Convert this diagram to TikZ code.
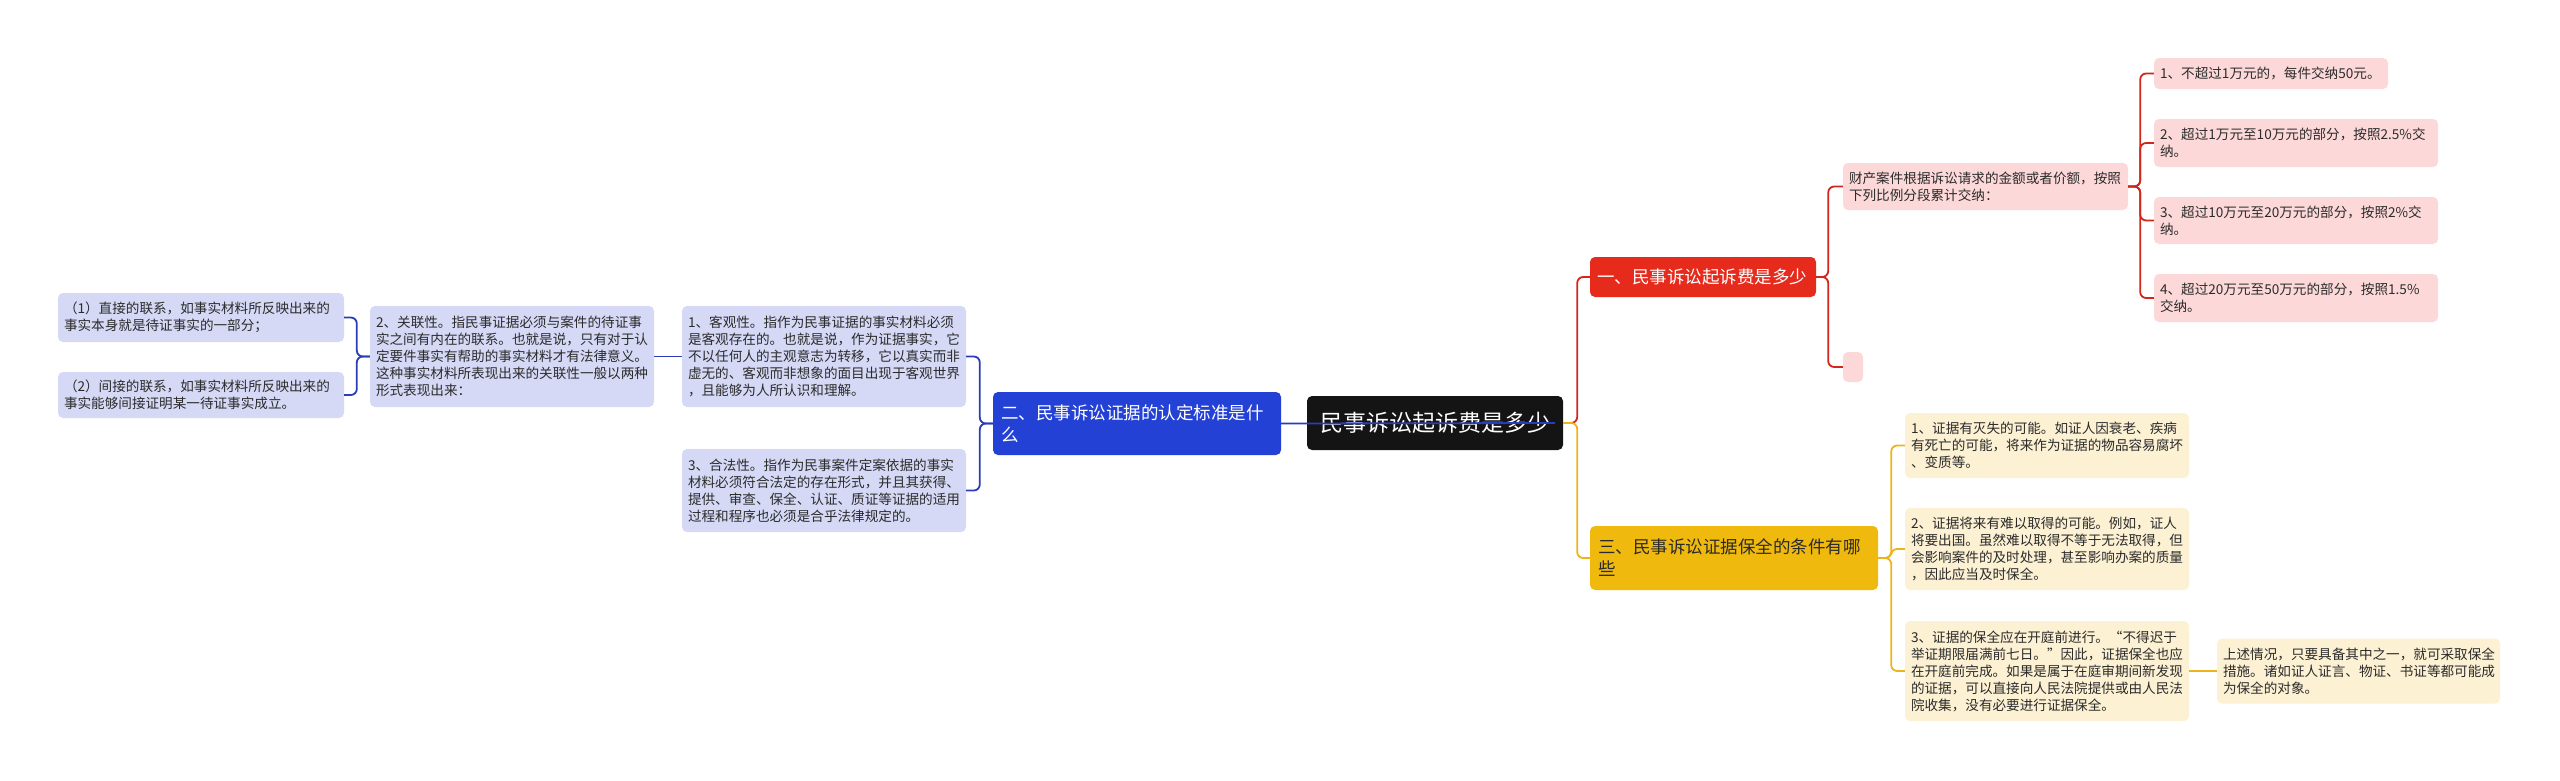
\documentclass[tikz,border=0pt]{standalone}
\usepackage{fontspec}
\newfontfamily\cjk{Noto Sans CJK SC}
\definecolor{rootc}{HTML}{141414}
\definecolor{bmain}{HTML}{2441D6}
\definecolor{rmain}{HTML}{E62A1C}
\definecolor{ymain}{HTML}{F0B90D}
\definecolor{lavc}{HTML}{D5D9F6}
\definecolor{pinkc}{HTML}{FCD8D8}
\definecolor{ylight}{HTML}{FDF1D4}
\definecolor{blc}{HTML}{2A3CB8}
\definecolor{rlc}{HTML}{D2261C}
\definecolor{ylc}{HTML}{ECB41C}
\definecolor{txtc}{HTML}{2B2B2B}
\tikzset{
  anybox/.style={rounded corners=5pt, inner sep=0pt, align=left},
  smalltxt/.style={font=\cjk\fontsize{13.6pt}{17pt}\selectfont, text=txtc},
  maintxt/.style={font=\cjk\fontsize{17.5pt}{22pt}\selectfont},
  rootbox/.style={anybox, fill=rootc, text=white, align=center, font=\cjk\fontsize{23pt}{28pt}\selectfont},
  bmainbox/.style={anybox, maintxt, fill=bmain, text=white},
  rmainbox/.style={anybox, maintxt, fill=rmain, text=white},
  ymainbox/.style={anybox, maintxt, fill=ymain, text=txtc},
  lavbox/.style={anybox, smalltxt, fill=lavc},
  pinkbox/.style={anybox, smalltxt, fill=pinkc},
  ylbox/.style={anybox, smalltxt, fill=ylight},
  bline/.style={draw=blc, line width=1.8pt, rounded corners=6pt},
  rline/.style={draw=rlc, line width=1.8pt, rounded corners=6pt},
  yline/.style={draw=ylc, line width=1.8pt, rounded corners=6pt},
}
\begin{document}
\begin{tikzpicture}[x=1pt,y=-1pt]
\useasboundingbox (0,0) rectangle (2560,780);

% root and main branches
\node[rootbox, minimum width=256pt, minimum height=54pt] (root) at (1435,423) {民事诉讼起诉费是多少};
\node[bmainbox, minimum width=288pt, minimum height=63pt, text width=272pt] (bm) at (1137,423.5) {二、民事诉讼证据的认定标准是什\\么};
\node[rmainbox, minimum width=226pt, minimum height=40pt, text width=212pt] (rm) at (1703,277) {一、民事诉讼起诉费是多少};
\node[ymainbox, minimum width=288pt, minimum height=64pt, text width=272pt] (ym) at (1734,558) {三、民事诉讼证据保全的条件有哪\\些};

% left (blue) side
\node[lavbox, minimum width=284pt, minimum height=101pt, text width=272pt] (kg) at (824,356.5) {1、客观性。指作为民事证据的事实材料必须\\是客观存在的。也就是说，作为证据事实，它\\不以任何人的主观意志为转移，它以真实而非\\虚无的、客观而非想象的面目出现于客观世界\\，且能够为人所认识和理解。};
\node[lavbox, minimum width=284pt, minimum height=83pt, text width=272pt] (hf) at (824,490.5) {3、合法性。指作为民事案件定案依据的事实\\材料必须符合法定的存在形式，并且其获得、\\提供、审查、保全、认证、质证等证据的适用\\过程和程序也必须是合乎法律规定的。};
\node[lavbox, minimum width=284pt, minimum height=101pt, text width=272pt] (gl) at (512,356.5) {2、关联性。指民事证据必须与案件的待证事\\实之间有内在的联系。也就是说，只有对于认\\定要件事实有帮助的事实材料才有法律意义。\\这种事实材料所表现出来的关联性一般以两种\\形式表现出来：};
\node[lavbox, minimum width=286pt, minimum height=49pt, text width=274pt] (zj) at (201,317.5) {（1）直接的联系，如事实材料所反映出来的\\事实本身就是待证事实的一部分；};
\node[lavbox, minimum width=286pt, minimum height=46pt, text width=274pt] (jj) at (201,395) {（2）间接的联系，如事实材料所反映出来的\\事实能够间接证明某一待证事实成立。};

% red side
\node[pinkbox, minimum width=285pt, minimum height=47pt, text width=273pt] (cc) at (1985.5,186.5) {财产案件根据诉讼请求的金额或者价额，按照\\下列比例分段累计交纳：};
\node[pinkbox, minimum width=20pt, minimum height=30pt] (pe) at (1853,367) {};
\node[pinkbox, minimum width=234pt, minimum height=31pt, text width=222pt] (g1) at (2271,73.5) {1、不超过1万元的，每件交纳50元。};
\node[pinkbox, minimum width=284pt, minimum height=48pt, text width=272pt] (g2) at (2296,143) {2、超过1万元至10万元的部分，按照2.5\%交\\纳。};
\node[pinkbox, minimum width=284pt, minimum height=47pt, text width=272pt] (g3) at (2296,220.5) {3、超过10万元至20万元的部分，按照2\%交\\纳。};
\node[pinkbox, minimum width=284pt, minimum height=48pt, text width=272pt] (g4) at (2296,298) {4、超过20万元至50万元的部分，按照1.5\%\\交纳。};

% yellow side
\node[ylbox, minimum width=284pt, minimum height=65pt, text width=272pt] (y1) at (2047,445.5) {1、证据有灭失的可能。如证人因衰老、疾病\\有死亡的可能，将来作为证据的物品容易腐坏\\、变质等。};
\node[ylbox, minimum width=284pt, minimum height=82pt, text width=272pt] (y2) at (2047,549) {2、证据将来有难以取得的可能。例如，证人\\将要出国。虽然难以取得不等于无法取得，但\\会影响案件的及时处理，甚至影响办案的质量\\，因此应当及时保全。};
\node[ylbox, minimum width=284pt, minimum height=100pt, text width=272pt] (y3) at (2047,671) {3、证据的保全应在开庭前进行。“不得迟于\\举证期限届满前七日。”因此，证据保全也应\\在开庭前完成。如果是属于在庭审期间新发现\\的证据，可以直接向人民法院提供或由人民法\\院收集，没有必要进行证据保全。};
\node[ylbox, minimum width=283pt, minimum height=65pt, text width=271pt] (yg) at (2358.5,671) {上述情况，只要具备其中之一，就可采取保全\\措施。诸如证人证言、物证、书证等都可能成\\为保全的对象。};

% connectors: root to main branches
\draw[rline] (root.east) -- ++(14,0) |- (rm.west);
\draw[yline] (root.east) -- ++(14,0) |- (ym.west);
\draw[bline] (bm.east) -- ([xshift=-8pt]root.east);

% blue side
\draw[bline] (bm.west) -- ++(-13,0) |- (kg.east);
\draw[bline] (bm.west) -- ++(-13,0) |- (hf.east);
\draw[bline] (kg.west) -- (gl.east);
\draw[bline] (gl.west) -- ++(-13,0) |- (zj.east);
\draw[bline] (gl.west) -- ++(-13,0) |- (jj.east);

% red side
\draw[rline] (rm.east) -- ++(12,0) |- (cc.west);
\draw[rline] (rm.east) -- ++(12,0) |- (pe.west);
\draw[rline] (cc.east) -- ++(12,0) |- (g1.west);
\draw[rline] (cc.east) -- ++(12,0) |- (g2.west);
\draw[rline] (cc.east) -- ++(12,0) |- (g3.west);
\draw[rline] (cc.east) -- ++(12,0) |- (g4.west);

% yellow side
\draw[yline] (ym.east) -- ++(13,0) |- (y1.west);
\draw[yline] (ym.east) -- ++(13,0) |- (y2.west);
\draw[yline] (ym.east) -- ++(13,0) |- (y3.west);
\draw[yline] (y3.east) -- (yg.west);
\end{tikzpicture}
\end{document}
